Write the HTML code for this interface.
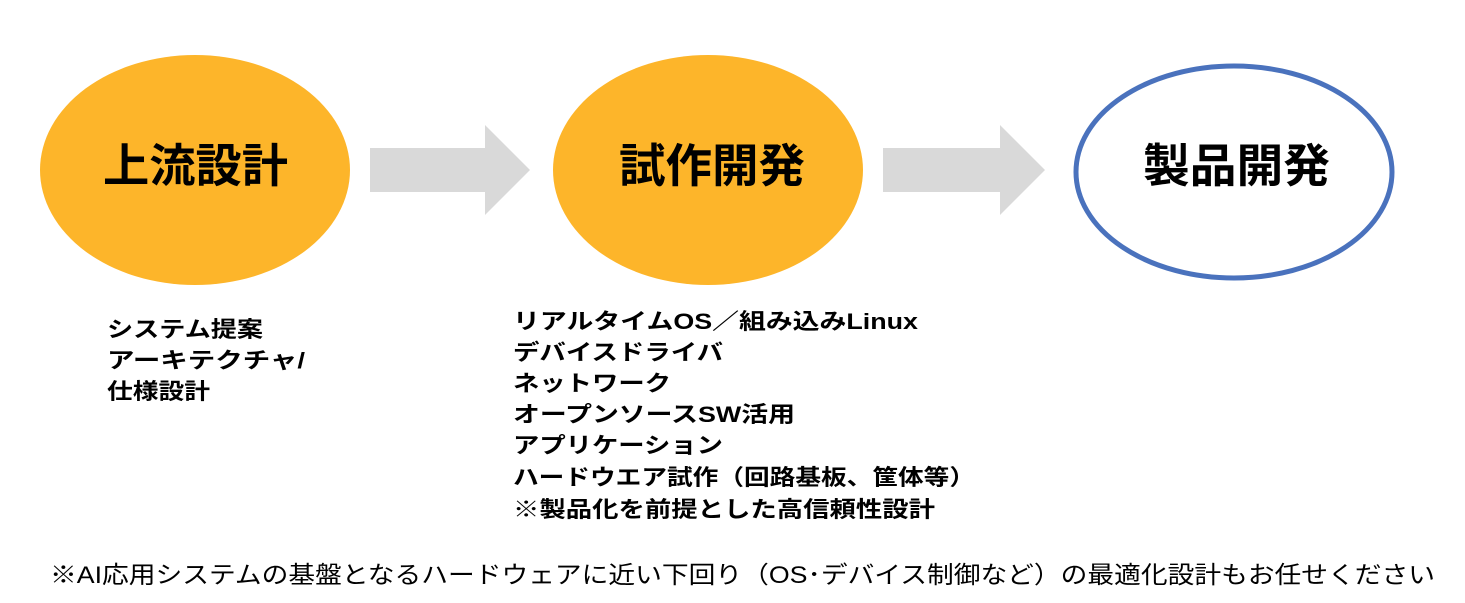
<!DOCTYPE html>
<html><head><meta charset="utf-8"><style>
html,body{margin:0;padding:0;background:#fff;}
svg{display:block;}
text{font-family:"Liberation Sans","Noto Sans CJK JP",sans-serif;fill:#000;}
.t{font-size:46px;font-weight:bold;}
.l{font-size:22px;font-weight:bold;}
</style></head><body>
<svg width="1465" height="603" viewBox="0 0 1465 603">
<ellipse cx="195" cy="170" rx="155" ry="115" fill="#fdb52a"/>
<ellipse cx="708" cy="170" rx="155" ry="115" fill="#fdb52a"/>
<ellipse cx="1234" cy="172" rx="158" ry="106" fill="#fff" stroke="#4a72bd" stroke-width="5"/>
<polygon points="370,148 485,148 485,125 530,170 485,215 485,192 370,192" fill="#d9d9d9"/>
<polygon points="883,148 1000,148 1000,125 1045,170 1000,215 1000,192 883,192" fill="#d9d9d9"/>
<text class="t" x="103" y="182" textLength="185" lengthAdjust="spacingAndGlyphs">上流設計</text>
<text class="t" x="619" y="182" textLength="186" lengthAdjust="spacingAndGlyphs">試作開発</text>
<text class="t" x="1143" y="182" textLength="187" lengthAdjust="spacingAndGlyphs">製品開発</text>
<text class="l" x="107" y="337" textLength="156" lengthAdjust="spacingAndGlyphs">システム提案</text>
<text class="l" x="107" y="368" textLength="198" lengthAdjust="spacingAndGlyphs">アーキテクチャ/</text>
<text class="l" x="107" y="399" textLength="103" lengthAdjust="spacingAndGlyphs">仕様設計</text>
<text class="l" x="513" y="329" textLength="405" lengthAdjust="spacingAndGlyphs">リアルタイムOS／組み込みLinux</text>
<text class="l" x="513" y="360" textLength="210" lengthAdjust="spacingAndGlyphs">デバイスドライバ</text>
<text class="l" x="513" y="391" textLength="158" lengthAdjust="spacingAndGlyphs">ネットワーク</text>
<text class="l" x="513" y="422" textLength="282" lengthAdjust="spacingAndGlyphs">オープンソースSW活用</text>
<text class="l" x="513" y="453" textLength="210" lengthAdjust="spacingAndGlyphs">アプリケーション</text>
<text class="l" x="513" y="485" textLength="462" lengthAdjust="spacingAndGlyphs">ハードウエア試作（回路基板、筐体等）</text>
<text class="l" x="513" y="517" textLength="422" lengthAdjust="spacingAndGlyphs">※製品化を前提とした高信頼性設計</text>
<text x="50" y="583" font-size="24" textLength="1385" lengthAdjust="spacingAndGlyphs">※AI応用システムの基盤となるハードウェアに近い下回り（OS･デバイス制御など）の最適化設計もお任せください</text>
</svg>
</body></html>
